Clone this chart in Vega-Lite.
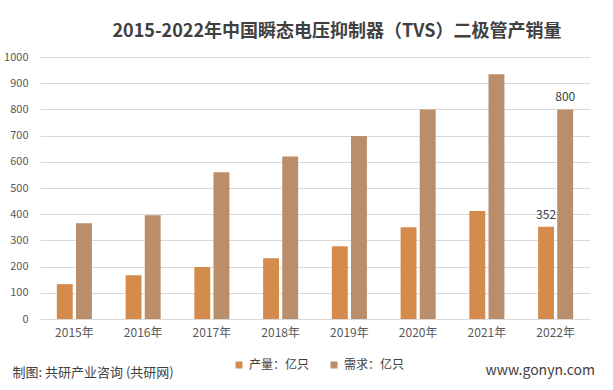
{
  "$schema": "https://vega.github.io/schema/vega-lite/v6.json",
  "width": 550,
  "height": 262,
  "autosize": {"type": "none"},
  "padding": {"left": 40, "top": 57, "right": 23, "bottom": 71},
  "background": "#ffffff",
  "config": {
    "view": {"stroke": null},
    "font": "Noto Sans CJK SC"
  },
  "title": {
    "text": "2015-2022年中国瞬态电压抑制器（TVS）二极管产销量",
    "fontSize": 18,
    "fontWeight": "bold",
    "color": "#404040",
    "font": "Noto Sans CJK SC",
    "anchor": "middle",
    "dx": 22,
    "offset": 10
  },
  "data": {
    "values": [
      {"year": "2015年", "series": "产量：亿只", "value": 133},
      {"year": "2015年", "series": "需求：亿只", "value": 365},
      {"year": "2016年", "series": "产量：亿只", "value": 167},
      {"year": "2016年", "series": "需求：亿只", "value": 396},
      {"year": "2017年", "series": "产量：亿只", "value": 198},
      {"year": "2017年", "series": "需求：亿只", "value": 560},
      {"year": "2018年", "series": "产量：亿只", "value": 232},
      {"year": "2018年", "series": "需求：亿只", "value": 620},
      {"year": "2019年", "series": "产量：亿只", "value": 278},
      {"year": "2019年", "series": "需求：亿只", "value": 698},
      {"year": "2020年", "series": "产量：亿只", "value": 350},
      {"year": "2020年", "series": "需求：亿只", "value": 800},
      {"year": "2021年", "series": "产量：亿只", "value": 412},
      {"year": "2021年", "series": "需求：亿只", "value": 934},
      {"year": "2022年", "series": "产量：亿只", "value": 352},
      {"year": "2022年", "series": "需求：亿只", "value": 800}
    ]
  },
  "encoding": {
    "x": {
      "field": "year",
      "type": "nominal",
      "sort": null,
      "scale": {"paddingInner": 0.49, "paddingOuter": 0.245},
      "axis": {
        "labelAngle": 0,
        "labelFontSize": 12,
        "labelColor": "#595959",
        "labelPadding": 8,
        "ticks": false,
        "domainColor": "#d9d9d9",
        "title": "制图: 共研产业咨询 (共研网)",
        "titleFontSize": 13,
        "titleFontWeight": "normal",
        "titleColor": "#404040",
        "titleAnchor": "start",
        "titleAlign": "left",
        "titleBaseline": "middle",
        "titleX": -28,
        "titleY": 53
      }
    },
    "xOffset": {
      "field": "series",
      "type": "nominal",
      "sort": ["产量：亿只", "需求：亿只"],
      "scale": {"paddingInner": 0.17}
    },
    "y": {
      "field": "value",
      "type": "quantitative",
      "scale": {"domain": [0, 1000], "nice": false},
      "axis": {
        "values": [0, 100, 200, 300, 400, 500, 600, 700, 800, 900, 1000],
        "format": "d",
        "labelFontSize": 11,
        "labelColor": "#595959",
        "labelPadding": 12,
        "ticks": false,
        "domain": false,
        "gridColor": "#d9d9d9",
        "title": "www.gonyn.com",
        "titleAngle": 0,
        "titleFontSize": 14,
        "titleFontWeight": "normal",
        "titleColor": "#404040",
        "titleAlign": "left",
        "titleBaseline": "middle",
        "titleX": 445,
        "titleY": 313
      }
    }
  },
  "layer": [
    {
      "mark": {"type": "bar"},
      "encoding": {
        "color": {
          "field": "series",
          "type": "nominal",
          "sort": ["产量：亿只", "需求：亿只"],
          "scale": {"range": ["#D58B4C", "#BA8D6B"]},
          "legend": {
            "title": null,
            "orient": "none",
            "direction": "horizontal",
            "legendX": 193,
            "legendY": 302,
            "symbolType": "square",
            "symbolSize": 49,
            "labelFontSize": 12,
            "labelColor": "#404040",
            "columnPadding": 18
          }
        }
      }
    },
    {
      "transform": [{"filter": "datum.year == '2022年'"}],
      "mark": {"type": "text", "baseline": "bottom", "dy": -5, "fontSize": 12, "color": "#404040"},
      "encoding": {
        "text": {"field": "value", "type": "quantitative"}
      }
    }
  ]
}
